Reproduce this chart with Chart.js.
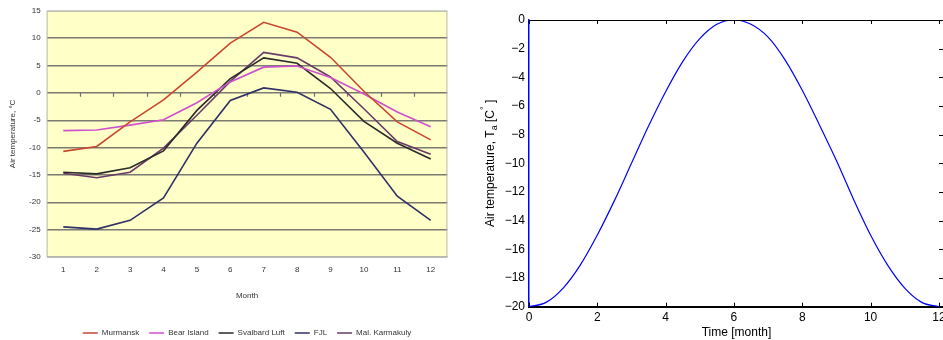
<!DOCTYPE html>
<html lang="en">
<head>
  <meta charset="UTF-8" />
  <title>Air temperature</title>
  <script src="https://cdn.jsdelivr.net/npm/chart.js"></script>
  <style>
    html, body { margin: 0; padding: 0; background: #fff; overflow: hidden; }
    .wrap { position: relative; width: 943px; height: 340px; overflow: hidden; }
    #left { position: absolute; left: 0; top: 0; }
    #right { position: absolute; left: 470px; top: 0; }
  </style>
</head>
<body>
  <div class="wrap">
    <canvas id="left" width="470" height="340"></canvas>
    <canvas id="right" width="500" height="340"></canvas>
  </div>

  <script>
    // ---- left chart: monthly air temperature by station ----
    const months = ['1', '2', '3', '4', '5', '6', '7', '8', '9', '10', '11', '12'];
    const murmansk     = [-10.7, -9.8, -5.3, -1.3, 3.8, 9.1, 12.9, 11.1, 6.5, 0.3, -5.3, -8.6];
    const bearIsland   = [-6.9, -6.8, -5.9, -4.9, -1.8, 2.0, 4.7, 4.9, 2.8, -0.2, -3.5, -6.2];
    const svalbardLuft = [-14.5, -14.8, -13.7, -10.6, -3.2, 2.6, 6.4, 5.4, 0.8, -5.2, -9.2, -12.1];
    const fjl          = [-24.5, -24.9, -23.3, -19.2, -9.2, -1.4, 0.9, 0.1, -3.0, -10.8, -18.9, -23.3];
    const malKarmakuly = [-14.7, -15.5, -14.5, -10.1, -4.1, 2.1, 7.4, 6.4, 2.9, -2.9, -8.9, -11.2];
    const stationTicks = [15, 10, 5, 0, -5, -10, -15, -20, -25, -30];

    // ---- right chart: model curve ----
    const timeMonths = [0, 0.5, 1, 1.5, 2, 2.5, 3, 3.5, 4, 4.5, 5, 5.5, 6,
                        6.5, 7, 7.5, 8, 8.5, 9, 9.5, 10, 10.5, 11, 11.5, 12];
    const airTemp = [-20, -19.7, -18.7, -17.1, -15.0, -12.6, -10.0, -7.4, -5.0, -2.9, -1.3, -0.3, 0,
                     -0.3, -1.2, -2.8, -4.9, -7.3, -9.8, -12.5, -15.0, -17.1, -18.7, -19.7, -20];
    const timeTicks = [0, 2, 4, 6, 8, 10, 12];
    const tempTicks = [0, -2, -4, -6, -8, -10, -12, -14, -16, -18, -20];

    const excelFont = { family: 'Liberation Sans, Arial, sans-serif', size: 8 };
    const matFont = { family: 'Liberation Sans, Arial, sans-serif', size: 12 };

    // yellow plot area, gray frame and the little ticks on the zero line
    const excelPlot = {
      id: 'excelPlot',
      afterLayout(chart) {
        // legend sits centred under the plot area, not the canvas
        const lg = chart.legend;
        const shift = (chart.chartArea.left + chart.chartArea.right) / 2 - (lg.left + lg.right) / 2;
        lg.left += shift;
        lg.right += shift;
      },
      beforeDraw(chart) {
        const { ctx, chartArea: a } = chart;
        ctx.save();
        ctx.fillStyle = '#FFFFC8';
        ctx.fillRect(a.left, a.top, a.right - a.left, a.bottom - a.top);
        ctx.restore();
      },
      beforeDatasetsDraw(chart) {
        const { ctx, chartArea: a, scales } = chart;
        const x = scales.x, y = scales.y;
        ctx.save();
        ctx.strokeStyle = '#B8B8B0';
        ctx.lineWidth = 1;
        ctx.strokeRect(a.left + 0.5, a.top + 0.5, a.right - a.left - 1, a.bottom - a.top - 1);
        const y0 = y.getPixelForValue(0);
        const half = (x.getPixelForValue(1) - x.getPixelForValue(0)) / 2;
        ctx.strokeStyle = '#707070';
        ctx.lineWidth = 1.2;
        ctx.beginPath();
        for (let i = 1; i < months.length; i++) {
          const px = Math.round(x.getPixelForValue(i) - half) + 0.5;
          ctx.moveTo(px, y0);
          ctx.lineTo(px, y0 + 4);
        }
        ctx.stroke();
        ctx.restore();
      }
    };

    function series(label, data, color) {
      return {
        label, data,
        borderColor: color, backgroundColor: color,
        borderWidth: 1.6, pointRadius: 0, tension: 0, fill: false
      };
    }

    new Chart(document.getElementById('left'), {
      type: 'line',
      data: {
        labels: months,
        datasets: [
          series('Murmansk', murmansk, '#C9472F'),
          series('Bear Island', bearIsland, '#CF4FCF'),
          series('Svalbard Luft', svalbardLuft, '#2B2B2B'),
          series('FJL', fjl, '#303068'),
          series('Mal. Karmakuly', malKarmakuly, '#6A3A68')
        ]
      },
      options: {
        responsive: false,
        animation: false,
        layout: { padding: { top: 10, right: 22.6, left: 0, bottom: -7 } },
        plugins: {
          tooltip: { enabled: false },
          legend: {
            position: 'bottom',
            labels: {
              font: excelFont, color: '#333',
              usePointStyle: true, pointStyle: 'line', pointStyleWidth: 15,
              boxHeight: 8, padding: 10
            }
          }
        },
        scales: {
          x: {
            offset: true,
            afterFit: s => { s.height = 62; },
            grid: { display: false, drawTicks: false },
            border: { display: false },
            ticks: { font: excelFont, color: '#333', padding: 8, maxRotation: 0 },
            title: { display: true, text: 'Month', font: excelFont, color: '#333', padding: { top: 0, bottom: 18 } }
          },
          y: {
            min: -30, max: 15,
            afterFit: s => { s.width = 46.6; },
            afterBuildTicks: s => { s.ticks = stationTicks.map(v => ({ value: v })); },
            grid: {
              drawTicks: false,
              color: c => (c.tick && c.tick.value === 15 ? '#D8D8C8' : '#7A7A70'),
              lineWidth: 1.4
            },
            border: { display: false },
            ticks: { font: excelFont, color: '#333', padding: 6 },
            title: { display: true, text: 'Air temperature, °C', font: excelFont, color: '#333', padding: { top: 8, bottom: 0 } }
          }
        }
      },
      plugins: [excelPlot]
    });

    // matlab style box: top/right lines, inward ticks, y label with sub/superscript
    const matBox = {
      id: 'matBox',
      afterDatasetsDraw(chart) {
        const { ctx, chartArea: a, scales } = chart;
        const x = scales.x, y = scales.y;
        ctx.save();
        ctx.strokeStyle = '#000';
        ctx.lineWidth = 1;
        ctx.beginPath();
        ctx.moveTo(a.left, a.top + 0.5);
        ctx.lineTo(a.right, a.top + 0.5);
        ctx.moveTo(a.right - 0.5, a.top);
        ctx.lineTo(a.right - 0.5, a.bottom);
        timeTicks.forEach(v => {
          const px = Math.round(x.getPixelForValue(v)) + 0.5;
          ctx.moveTo(px, a.top);
          ctx.lineTo(px, a.top + 4);
          ctx.moveTo(px, a.bottom);
          ctx.lineTo(px, a.bottom - 4);
        });
        tempTicks.forEach(v => {
          const py = Math.round(y.getPixelForValue(v)) + 0.5;
          ctx.moveTo(a.right, py);
          ctx.lineTo(a.right - 5, py);
        });
        ctx.stroke();

        // y axis title
        const cy = (a.top + a.bottom) / 2;
        ctx.translate(20, cy);
        ctx.rotate(-Math.PI / 2);
        ctx.fillStyle = '#000';
        ctx.textBaseline = 'alphabetic';
        const big = '12px Liberation Sans, Arial, sans-serif';
        const small = '9px Liberation Sans, Arial, sans-serif';
        const parts = [
          { t: 'Air temperature, T', f: big, dy: 0 },
          { t: 'a', f: small, dy: 3 },
          { t: ' [C', f: big, dy: 0 },
          { t: '°', f: small, dy: -7 },
          { t: ' ]', f: big, dy: 0 }
        ];
        let total = 0;
        parts.forEach(p => { ctx.font = p.f; p.w = ctx.measureText(p.t).width; total += p.w; });
        let cx = -total / 2;
        parts.forEach(p => {
          ctx.font = p.f;
          ctx.fillText(p.t, cx, 4 + p.dy);
          cx += p.w;
        });
        ctx.restore();
      }
    };

    const minusFmt = v => (v < 0 ? '\u2212' + Math.abs(v) : String(v));

    new Chart(document.getElementById('right'), {
      type: 'line',
      data: {
        datasets: [{
          label: 'Ta',
          data: timeMonths.map((t, i) => ({ x: t, y: airTemp[i] })),
          borderColor: '#0000FF',
          borderWidth: 1.2,
          pointRadius: 0,
          cubicInterpolationMode: 'monotone',
          fill: false
        }]
      },
      options: {
        responsive: false,
        animation: false,
        layout: { padding: { top: 20, right: 26, left: 0, bottom: 0 } },
        plugins: { legend: { display: false }, tooltip: { enabled: false } },
        scales: {
          x: {
            type: 'linear', min: 0, max: 12.15,
            afterFit: s => { s.height = 33.3; },
            afterBuildTicks: s => { s.ticks = timeTicks.map(v => ({ value: v })); },
            grid: { display: false, drawTicks: false },
            border: { display: true, color: '#000', width: 2 },
            ticks: { font: matFont, color: '#000', padding: 4, maxRotation: 0, callback: minusFmt },
            title: { display: true, text: 'Time [month]', font: matFont, color: '#000', padding: { top: 0, bottom: 0 } }
          },
          y: {
            min: -20, max: 0,
            afterFit: s => { s.width = 59; },
            afterBuildTicks: s => { s.ticks = tempTicks.map(v => ({ value: v })); },
            grid: { display: false, drawTicks: false },
            border: { display: true, color: '#0000FF', width: 1.5 },
            ticks: { font: matFont, color: '#000', padding: 4, callback: minusFmt }
          }
        }
      },
      plugins: [matBox]
    });
  </script>
</body>
</html>
